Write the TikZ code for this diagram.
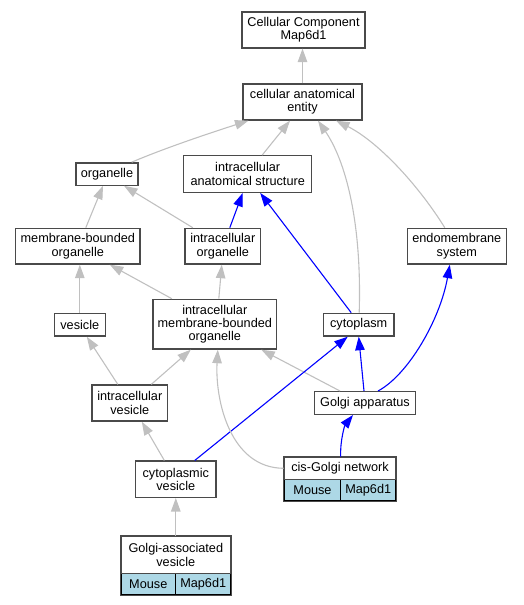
\documentclass[tikz,border=0pt]{standalone}
\usepackage{fontspec}
\setmainfont{Liberation Sans}
\usetikzlibrary{arrows.meta}
\definecolor{edgegray}{HTML}{C0C0C0}
\definecolor{cellblue}{HTML}{ADD8E6}
\definecolor{boxline}{HTML}{4A4A4A}
\tikzset{
  term/.style={draw=boxline, line width=1.3pt, fill=white, inner sep=0pt, align=center,
    font=\fontsize{12.7}{13.3}\selectfont},
  cell/.style={draw=black, line width=0.9pt, fill=cellblue, inner sep=0pt,
    font=\fontsize{12.7}{13.3}\selectfont},
  isa/.style={draw=edgegray, line width=1.1pt, -{Triangle[length=13.5pt,width=9.5pt]}},
  partof/.style={draw=blue, line width=1.1pt, -{Triangle[length=13.5pt,width=9.5pt]}},
}
\begin{document}
\begin{tikzpicture}[x=1pt,y=-1pt]
\useasboundingbox (0,0) rectangle (523,605);
% nodes
\node[term, minimum width=123pt, minimum height=36pt] (CC) at (303.5,30) {Cellular Component\\Map6d1};
\node[term, minimum width=119pt, minimum height=36pt] (cae) at (302.5,102) {cellular anatomical\\entity};
\node[term, minimum width=62pt, minimum height=22.3pt] (organelle) at (107,174) {organelle};
\node[term, minimum width=128pt, minimum height=36.6pt] (ias) at (247.7,174) {intracellular\\anatomical structure};
\node[term, minimum width=124.3pt, minimum height=35.7pt] (mbo) at (77.8,246.2) {membrane-bounded\\organelle};
\node[term, minimum width=75.7pt, minimum height=35.7pt] (io) at (222.8,246.2) {intracellular\\organelle};
\node[term, minimum width=99pt, minimum height=35.7pt] (es) at (456.8,246.2) {endomembrane\\system};
\node[term, minimum width=51pt, minimum height=22.7pt] (vesicle) at (79.8,324.7) {vesicle};
\node[term, minimum width=123.7pt, minimum height=49.7pt] (imbo) at (214.8,324.2) {intracellular\\membrane-bounded\\organelle};
\node[term, minimum width=70.7pt, minimum height=22.7pt] (cyto) at (358.7,324.7) {cytoplasm};
\node[term, minimum width=75.7pt, minimum height=36pt] (ivesicle) at (129.8,403) {intracellular\\vesicle};
\node[term, minimum width=101.3pt, minimum height=22.7pt] (golgi) at (365,403) {Golgi apparatus};
\node[term, minimum width=80.3pt, minimum height=36.3pt] (cv) at (175.8,479.2) {cytoplasmic\\vesicle};
% cis-Golgi network with table
\node[cell, minimum width=56.4pt, minimum height=21.4pt] (cgnmouse) at (312.5,490) {Mouse};
\node[cell, minimum width=55pt, minimum height=21.4pt] (cgngene) at (368.2,490) {Map6d1};
\node[term, minimum width=111.4pt, minimum height=22pt] (cgn) at (340,468.3) {cis-Golgi network};
\draw[boxline, line width=1.3pt] (cgn.north west) rectangle (cgngene.south east);
% Golgi-associated vesicle with table
\node[cell, minimum width=54.7pt, minimum height=21.4pt] (gavmouse) at (148.3,584) {Mouse};
\node[cell, minimum width=55pt, minimum height=21.4pt] (gavgene) at (203.2,584) {Map6d1};
\node[term, minimum width=109.7pt, minimum height=36.7pt] (gav) at (175.8,555) {Golgi-associated\\vesicle};
\draw[boxline, line width=1.3pt] (gav.north west) rectangle (gavgene.south east);
% edges
\draw[isa] (cae.north) -- (cae.north |- CC.south);
\draw[isa] ([xshift=-7pt]organelle.north east) .. controls (165,148) and (210,133) .. ([xshift=-54pt]cae.south);
\draw[isa] ([xshift=14.5pt]ias.north) -- ([xshift=-12.5pt]cae.south);
\draw[isa] ([xshift=0.5pt]cyto.north) .. controls (362,220) and (345,160) .. ([xshift=15.5pt]cae.south);
\draw[isa] ([xshift=-12pt]es.north) .. controls (415,180) and (375,140) .. ([xshift=33.5pt]cae.south);
\draw[isa] ([xshift=8pt]mbo.north) -- ([xshift=-4pt]organelle.south);
\draw[isa] ([xshift=-30pt]io.north) -- ([xshift=17pt]organelle.south);
\draw[partof] ([xshift=7pt]io.north) -- ([xshift=-5pt]ias.south);
\draw[partof] ([xshift=-7.5pt]cyto.north) -- ([xshift=12.5pt]ias.south);
\draw[isa] (vesicle.north) -- (vesicle.north |- mbo.south);
\draw[isa] ([xshift=-43pt]imbo.north) -- ([xshift=32pt]mbo.south);
\draw[isa] ([xshift=4pt]imbo.north) -- ([xshift=-1pt]io.south);
\draw[isa] ([xshift=-12pt]ivesicle.north) -- ([xshift=7pt]vesicle.south);
\draw[isa] ([xshift=21.5pt]ivesicle.north) -- ([xshift=-24pt]imbo.south);
\draw[isa] ([xshift=-25pt]golgi.north) -- ([xshift=46.5pt]imbo.south);
\draw[partof] ([xshift=-1pt]golgi.north) -- (cyto.south);
\draw[partof] ([xshift=13pt]golgi.north) .. controls (408,375) and (440,320) .. ([xshift=-7pt]es.south);
\draw[partof] ([xshift=19pt]cv.north) -- ([xshift=-11pt]cyto.south);
\draw[isa] (cgn.west) .. controls (230,468) and (215,400) .. ([xshift=3pt]imbo.south);
\draw[partof] ([xshift=0.7pt]cgn.north) .. controls (340,440) and (345,425) .. ([xshift=-12pt]golgi.south);
\draw[isa] ([xshift=-11.5pt]cv.north) -- ([xshift=12pt]ivesicle.south);
\draw[isa] (gav.north) -- (gav.north |- cv.south);
\end{tikzpicture}
\end{document}
